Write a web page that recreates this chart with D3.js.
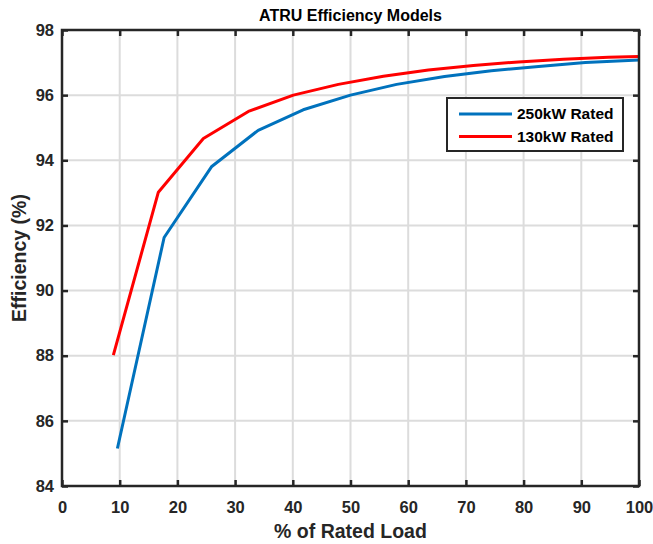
<!DOCTYPE html>
<html>
<head>
<meta charset="utf-8">
<script src="https://cdn.jsdelivr.net/npm/d3@7"></script>
<style>
  body { margin: 0; background: #fff; }
  text { font-family: "Liberation Sans", Arial, sans-serif; font-weight: bold; fill: #262626; }
</style>
</head>
<body>
<script>
// Data
var load250 = [9.6, 17.7, 25.9, 34.0, 41.8, 50.0, 58.0, 66.3, 74.4, 82.6, 90.7, 100];
var eff250  = [85.15, 91.63, 93.8, 94.92, 95.55, 96.0, 96.33, 96.57, 96.75, 96.88, 97.0, 97.08];
var load130 = [8.9, 16.7, 24.5, 32.3, 40.1, 47.9, 55.7, 63.5, 71.3, 79.1, 86.9, 94.7, 100];
var eff130  = [88.02, 93.02, 94.67, 95.5, 96.0, 96.33, 96.58, 96.77, 96.91, 97.02, 97.1, 97.16, 97.19];
var seriesNames = ["250kW Rated", "130kW Rated"];
var seriesColors = ["#0072BD", "#FF0000"];
var xTicks = [0, 10, 20, 30, 40, 50, 60, 70, 80, 90, 100];
var yTicks = [84, 86, 88, 90, 92, 94, 96, 98];

var width = 653, height = 544;
var margin = { top: 30, right: 14, bottom: 58, left: 62 };
var w = width - margin.left - margin.right,
    h = height - margin.top - margin.bottom;

var svg = d3.select("body").append("svg")
  .attr("width", width)
  .attr("height", height);

var g = svg.append("g")
  .attr("transform", "translate(" + margin.left + "," + margin.top + ")");

var x = d3.scaleLinear().domain([0, 100]).range([0, w]);
var y = d3.scaleLinear().domain([84, 98]).range([h, 0]);

// grid
g.append("g").selectAll("line").data(xTicks.slice(1, -1)).enter().append("line")
  .attr("x1", x).attr("x2", x).attr("y1", 0).attr("y2", h)
  .style("stroke", "#dcdcdc").style("stroke-width", 2);
g.append("g").selectAll("line").data(yTicks.slice(1, -1)).enter().append("line")
  .attr("y1", y).attr("y2", y).attr("x1", 0).attr("x2", w)
  .style("stroke", "#dcdcdc").style("stroke-width", 2);

// lines
var series = [
  d3.zip(load250, eff250),
  d3.zip(load130, eff130)
];
var line = d3.line()
  .x(function (d) { return x(d[0]); })
  .y(function (d) { return y(d[1]); });

g.selectAll("path.series").data(series).enter().append("path")
  .attr("class", "series")
  .attr("d", line)
  .style("fill", "none")
  .style("stroke", function (d, i) { return seriesColors[i]; })
  .style("stroke-width", 3)
  .style("stroke-linejoin", "round");

// axes (ticks point inward, mirrored on top and right)
function styleAxis(sel) {
  sel.select(".domain").remove();
  sel.selectAll(".tick line").style("stroke", "#262626").style("stroke-width", 2.5);
  sel.selectAll(".tick text").style("font-size", "16.5px").style("fill", "#262626")
    .style("font-family", "'Liberation Sans', Arial, sans-serif").style("font-weight", "bold");
}

g.append("g").attr("transform", "translate(0," + h + ")")
  .call(d3.axisBottom(x).tickValues(xTicks).tickSizeInner(-6).tickSizeOuter(0).tickPadding(15))
  .call(styleAxis);
g.append("g")
  .call(d3.axisTop(x).tickValues(xTicks).tickSizeInner(-6).tickSizeOuter(0).tickFormat(""))
  .call(styleAxis);
g.append("g")
  .call(d3.axisLeft(y).tickValues(yTicks).tickSizeInner(-6).tickSizeOuter(0).tickPadding(8))
  .call(styleAxis);
g.append("g").attr("transform", "translate(" + w + ",0)")
  .call(d3.axisRight(y).tickValues(yTicks).tickSizeInner(-6).tickSizeOuter(0).tickFormat(""))
  .call(styleAxis);

// box
g.append("rect")
  .attr("width", w).attr("height", h)
  .style("fill", "none").style("stroke", "#262626").style("stroke-width", 2.5);

// title and axis labels
svg.append("text")
  .attr("x", margin.left + w / 2).attr("y", 21)
  .attr("text-anchor", "middle")
  .style("font-size", "16px").style("fill", "#000")
  .text("ATRU Efficiency Models");

svg.append("text")
  .attr("x", margin.left + w / 2).attr("y", 538)
  .attr("text-anchor", "middle")
  .style("font-size", "19.5px")
  .text("% of Rated Load");

svg.append("text")
  .attr("transform", "translate(26," + (margin.top + h / 2) + ") rotate(-90)")
  .attr("text-anchor", "middle")
  .style("font-size", "19.5px")
  .text("Efficiency (%)");

// legend
var legend = svg.append("g").attr("transform", "translate(447,98)");
legend.append("rect")
  .attr("width", 176).attr("height", 53)
  .style("fill", "#fff").style("stroke", "#262626").style("stroke-width", 2);
var item = legend.selectAll("g.item").data(seriesNames).enter().append("g")
  .attr("class", "item")
  .attr("transform", function (d, i) { return "translate(0," + (16 + i * 22.5) + ")"; });
item.append("line")
  .attr("x1", 12).attr("x2", 65)
  .style("stroke", function (d, i) { return seriesColors[i]; })
  .style("stroke-width", 3);
item.append("text")
  .attr("x", 70).attr("dy", "0.35em")
  .style("font-size", "15.5px").style("fill", "#000")
  .text(function (d) { return d; });
</script>
</body>
</html>
